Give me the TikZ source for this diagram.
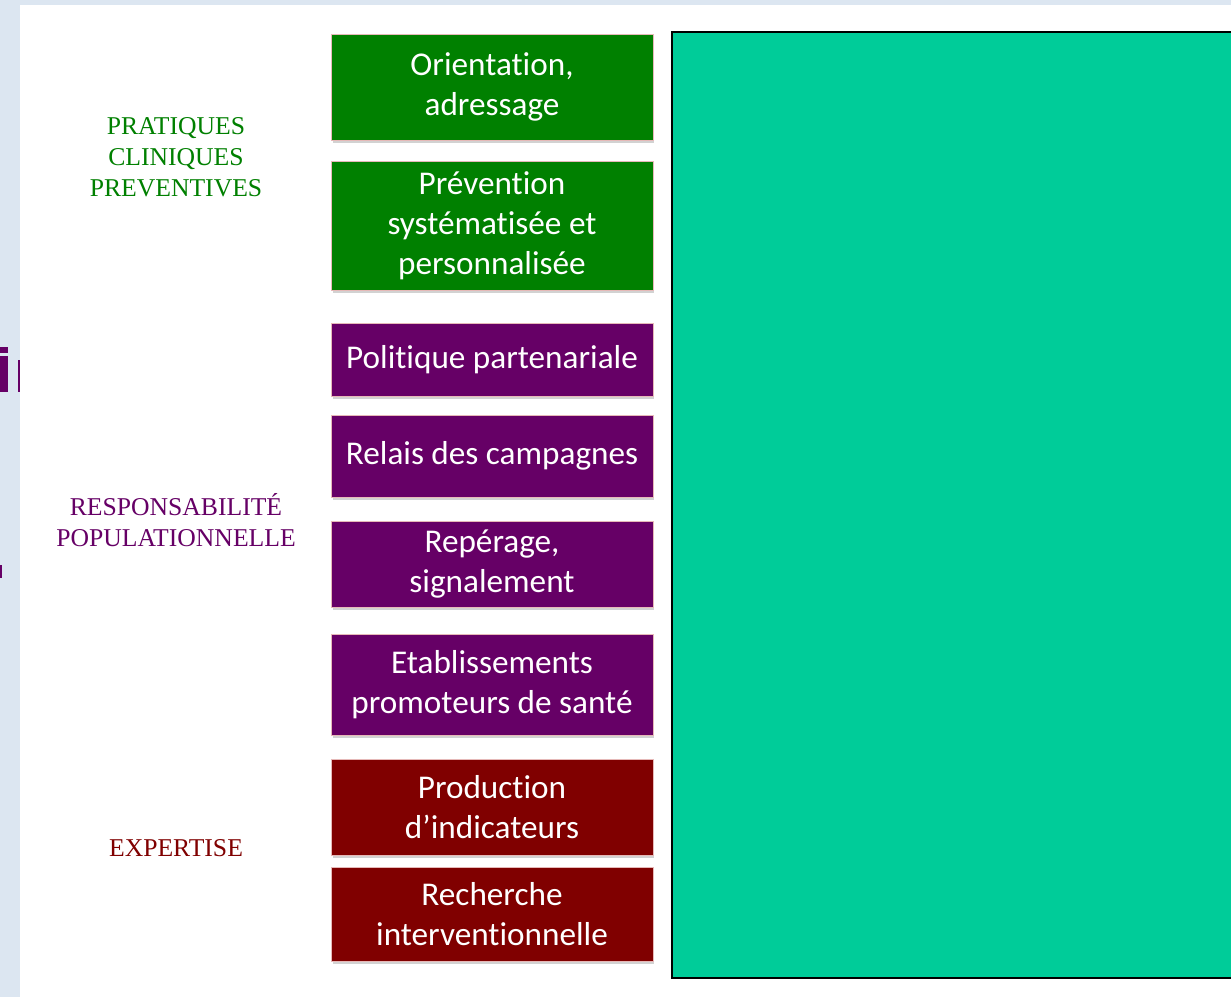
\documentclass[tikz,border=0pt]{standalone}
\usepackage{fontspec}
\setmainfont{Liberation Serif}
\setsansfont{Carlito}[Ligatures=NoCommon]
\usepackage{xcolor}
\usetikzlibrary{shadows}
\definecolor{fond}{HTML}{DCE6F1}
\definecolor{vert}{HTML}{008000}
\definecolor{violet}{HTML}{660066}
\definecolor{bordeaux}{HTML}{800000}
\definecolor{turquoise}{HTML}{00CC99}
\definecolor{liseret}{HTML}{E6B9B8}
\tikzset{
  every node/.style = {font = \fontsize{16}{22.7}\selectfont}
}
\tikzset{
  action/.style = {draw=liseret, line width=0.4pt, text=white,
    font=\sffamily\fontsize{18.9}{22.7}\selectfont, align=center,
    minimum width=6.44cm, inner sep=0pt,
    drop shadow={opacity=0.35, shadow xshift=0.03cm, shadow yshift=-0.07cm}},
  axe/.style = {align=center, font=\fontsize{14.6}{17.8}\selectfont}
}

\begin{document}
\begin{tikzpicture}[x=0.02cm, y=-0.02cm]
\def\xb{492}

\useasboundingbox (0,0) rectangle (1231,997);

% Background and slide
\fill[fond] (0,0) rectangle (1231,997);
\fill[white] (20,5) rectangle (1231,997);
% pieces of the title hidden behind the slide
\fill[violet] (0,347) rectangle (8,353);
\fill[violet] (0,356) rectangle (8,392);
\fill[violet] (18,360) rectangle (20,392);
\fill[violet] (0,565) rectangle (2,578);

% The big panel on the right
\begin{scope}
\clip (0,0) rectangle (1231,997);
\draw[fill=turquoise, line width=0.04cm] (672,32) rectangle (1245,978);
\end{scope}

% Boxes
\node[action, fill=vert, minimum height=2.12cm] (orient) at (\xb,87) {Orientation,\\adressage};
\node[action, fill=vert, minimum height=2.58cm] (prev) at (\xb,225.5) {Prévention\\systématisée et\\personnalisée};
\node[action, fill=violet, minimum height=1.46cm] (polit) at (\xb,359.5) {Politique partenariale};
\node[action, fill=violet, minimum height=1.64cm] (relais) at (\xb,456) {Relais des campagnes};
\node[action, fill=violet, minimum height=1.72cm] (repere) at (\xb,564) {Repérage,\\signalement};
\node[action, fill=violet, minimum height=2.02cm] (etab) at (\xb,684.5) {Etablissements\\promoteurs de santé};
\node[action, fill=bordeaux, minimum height=1.92cm] (indic) at (\xb,807) {Production\\d’indicateurs};
\node[action, fill=bordeaux, minimum height=1.88cm] (rech) at (\xb,914) {Recherche\\interventionnelle};

% Labels of the axes
\node[axe, text=vert] (pratiques) at (176,157) {PRATIQUES\\CLINIQUES\\PREVENTIVES};
\node[axe, text=violet] (respons) at (176,520) {RESPONSABILITÉ\\POPULATIONNELLE};
\node[axe, text=bordeaux] (expert) at (176,848) {EXPERTISE};
\end{tikzpicture}
\end{document}
